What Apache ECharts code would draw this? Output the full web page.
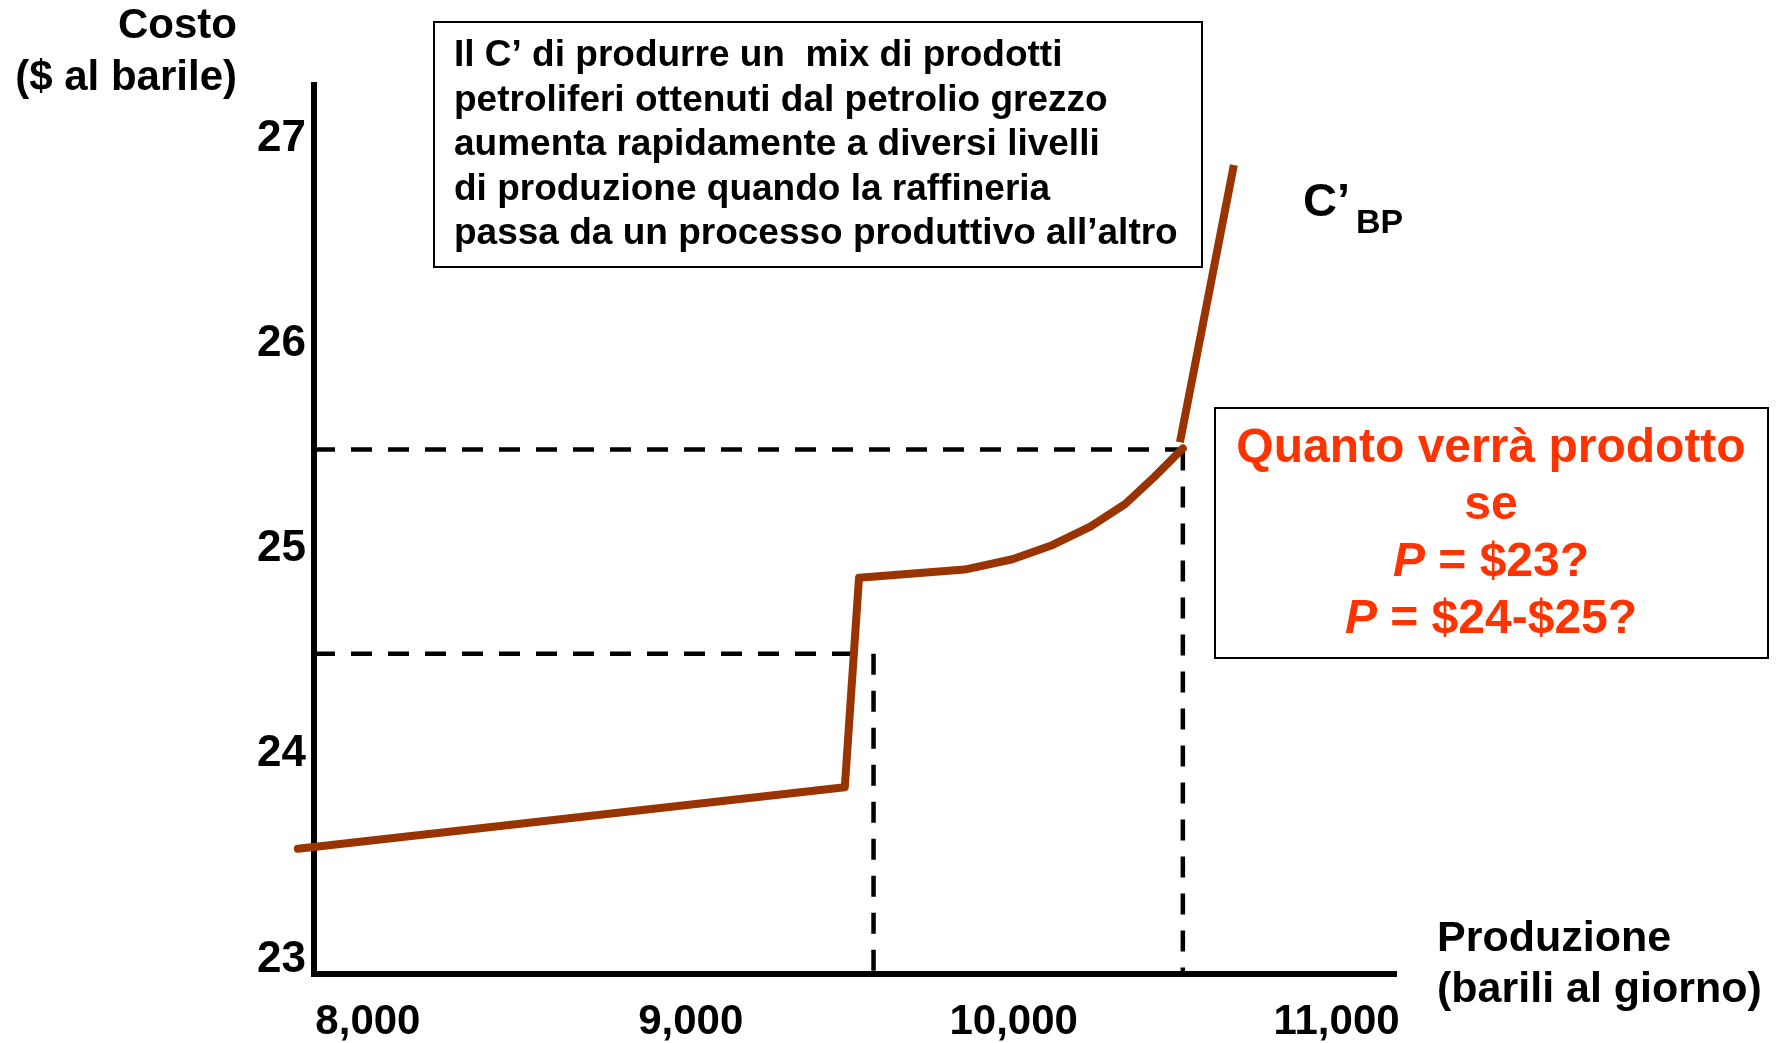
<!DOCTYPE html>
<html>
<head>
<meta charset="utf-8">
<title>C' BP</title>
<script src="https://cdn.jsdelivr.net/npm/echarts@6/dist/echarts.min.js"></script>
<style>
  html, body { margin: 0; padding: 0; background: #fff; }
  #chart { width: 1777px; height: 1043px; }
</style>
</head>
<body>
<div id="chart"></div>
<script>
// curva del costo marginale (barili al giorno, $ al barile)
const curveX = [7783, 9477, 9521, 9848, 9996, 10121, 10239, 10346, 10435, 10524]
const curveY = [23.54, 23.84, 24.86, 24.9, 24.95, 25.02, 25.11, 25.22, 25.35, 25.49]
// tratto ripido dopo il cambio di processo
const steepX = [10515, 10682]
const steepY = [25.52, 26.87]
// linee tratteggiate di riferimento
const guideLowY = 24.49
const guideLowEndX = 9523
const guideLowDropX = 9566
const guideHighY = 25.485
const guideHighX = 10524

const xTicks = [8000, 9000, 10000, 11000]
const yTicks = [23, 24, 25, 26, 27]
const xMin = 7833, xMax = 11178
const yMin = 22.93, yMax = 27.26

const FONT = '"Liberation Sans", Arial, sans-serif'
const BROWN = '#993300'
const RED = '#ff3300'

const zip = (xs, ys) => xs.map((x, i) => [x, ys[i]])

const dashed = { color: '#000', width: 4.5, type: [21, 16] }
const axisLine = { lineStyle: { color: '#000', width: 6, cap: 'square' } }

const chart = echarts.init(document.getElementById('chart'), null, { renderer: 'canvas' })

chart.setOption({
  animation: false,
  backgroundColor: '#fff',
  grid: { left: 314, right: 383, top: 85, bottom: 66 },
  xAxis: {
    type: 'value',
    min: xMin,
    max: xMax,
    axisLine,
    axisTick: { show: false },
    splitLine: { show: false },
    axisLabel: {
      customValues: xTicks,
      formatter: (v) => v.toLocaleString('en-US'),
      color: '#000',
      fontFamily: FONT,
      fontWeight: 'bold',
      fontSize: 42,
      margin: 27,
    },
  },
  yAxis: {
    type: 'value',
    min: yMin,
    max: yMax,
    axisLine,
    axisTick: { show: false },
    splitLine: { show: false },
    axisLabel: {
      customValues: yTicks,
      color: '#000',
      fontFamily: FONT,
      fontWeight: 'bold',
      fontSize: 44,
      margin: 8,
    },
  },
  series: [
    {
      type: 'line',
      data: [[xMin, guideLowY], [guideLowEndX, guideLowY]],
      showSymbol: false,
      lineStyle: dashed,
      z: 1,
    },
    {
      type: 'line',
      data: [[guideLowDropX, guideLowY], [guideLowDropX, yMin]],
      showSymbol: false,
      lineStyle: dashed,
      z: 1,
    },
    {
      type: 'line',
      data: [[xMin, guideHighY], [guideHighX, guideHighY]],
      showSymbol: false,
      lineStyle: dashed,
      z: 1,
    },
    {
      type: 'line',
      data: [[guideHighX, guideHighY], [guideHighX, yMin]],
      showSymbol: false,
      lineStyle: dashed,
      z: 1,
    },
    {
      // lines series so the start can sit left of the y axis (clip: false)
      type: 'lines',
      coordinateSystem: 'cartesian2d',
      polyline: true,
      clip: false,
      data: [{ coords: zip(curveX, curveY) }],
      lineStyle: { color: BROWN, width: 8, opacity: 1, cap: 'round', join: 'round' },
      z: 3,
    },
    {
      type: 'line',
      data: zip(steepX, steepY),
      showSymbol: false,
      clip: false,
      lineStyle: { color: BROWN, width: 8 },
      z: 3,
    },
  ],
  graphic: [
    {
      type: 'text',
      right: 1777 - 237,
      top: 2,
      style: { text: 'Costo', font: `bold 42px ${FONT}`, fill: '#000', lineHeight: 48 },
    },
    {
      type: 'text',
      right: 1777 - 237,
      top: 54,
      style: { text: '($ al barile)', font: `bold 42px ${FONT}`, fill: '#000', lineHeight: 48 },
    },
    {
      type: 'text',
      left: 1437,
      top: 914,
      style: {
        text: 'Produzione\n(barili al giorno)',
        font: `bold 43px ${FONT}`,
        fill: '#000',
        lineHeight: 51,
      },
    },
    {
      type: 'group',
      left: 433,
      top: 21,
      children: [
        {
          type: 'rect',
          shape: { x: 0, y: 0, width: 768, height: 245 },
          style: { fill: '#fff', stroke: '#000', lineWidth: 2 },
        },
        {
          type: 'text',
          x: 20,
          y: 12,
          style: {
            text: 'Il C’ di produrre un  mix di prodotti\npetroliferi ottenuti dal petrolio grezzo\naumenta rapidamente a diversi livelli\ndi produzione quando la raffineria\npassa da un processo produttivo all’altro',
            font: `bold 37px ${FONT}`,
            fill: '#000',
            lineHeight: 44.5,
          },
        },
      ],
    },
    {
      type: 'group',
      left: 1214,
      top: 407,
      children: [
        {
          type: 'rect',
          shape: { x: 0, y: 0, width: 553, height: 250 },
          style: { fill: '#fff', stroke: '#000', lineWidth: 2 },
        },
        {
          type: 'text',
          x: 276,
          y: 12,
          style: {
            text: 'Quanto verrà prodotto\nse\n{i|P} = $23?\n{i|P} = $24-$25?',
            font: `bold 48px ${FONT}`,
            fill: RED,
            align: 'center',
            lineHeight: 57,
            rich: {
              i: { fontStyle: 'italic', fontWeight: 'bold', fontSize: 48, fontFamily: FONT, fill: RED, lineHeight: 57 },
            },
          },
        },
      ],
    },
    {
      type: 'text',
      left: 1303,
      top: 180,
      style: { text: 'C’', font: `bold 47px ${FONT}`, fill: '#000' },
    },
    {
      type: 'text',
      left: 1356,
      top: 207,
      style: { text: 'BP', font: `bold 34px ${FONT}`, fill: '#000' },
    },
  ],
})

window.addEventListener('resize', () => chart.resize())
</script>
</body>
</html>
